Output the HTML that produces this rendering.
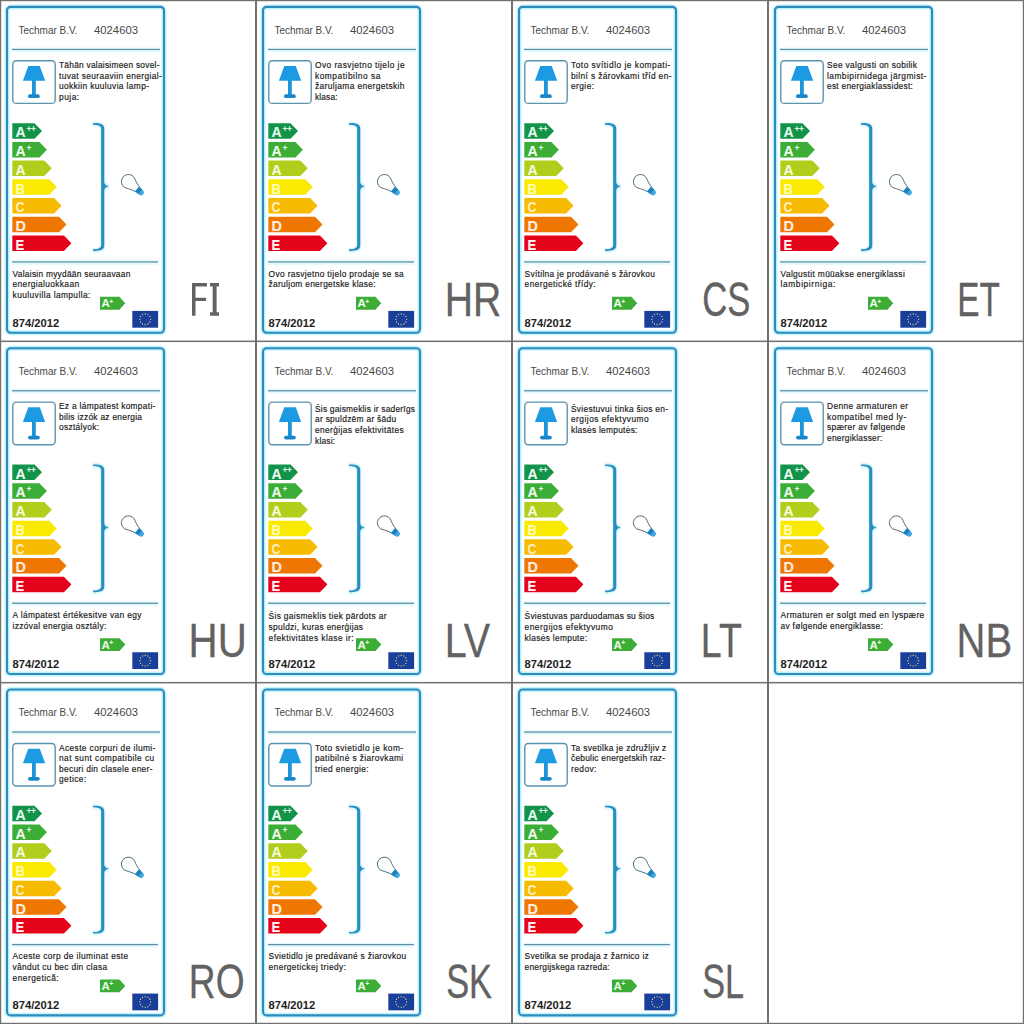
<!DOCTYPE html>
<html><head><meta charset="utf-8"><style>
html,body{margin:0;padding:0;background:#fff;width:1024px;height:1024px;overflow:hidden}
svg{display:block}
text{font-family:"Liberation Sans",sans-serif}
.hd{font-size:10.9px;fill:#484848}
.bt{font-size:9px;fill:#1a1a1a;stroke:#1a1a1a;stroke-width:0.18px;letter-spacing:0.32px}
.al{font-size:15.2px;font-weight:bold;stroke-width:0.1px}
.sup{font-size:8.4px;font-weight:bold;fill:#eefaee;letter-spacing:-0.4px}
.als{font-size:11.5px;font-weight:bold;fill:#eefaea}
.sups{font-size:7px;font-weight:bold;fill:#eefaea}
.rg{font-size:11.2px;font-weight:bold;fill:#1e1e1e}
.code{font-size:47.2px;fill:#626262;stroke:#626262;stroke-width:0.3px}
</style></head><body>
<svg width="1024" height="1024" viewBox="0 0 1024 1024">
<rect width="1024" height="1024" fill="#fff"/>
<g transform="translate(0,0.000)">
<rect x="7" y="6.9" width="157" height="325.8" rx="3.6" fill="none" stroke="#bff3fd" stroke-width="5"/>
<rect x="7" y="6.9" width="157" height="325.8" rx="3.6" fill="none" stroke="#2f8bbd" stroke-width="2.1"/>
<text x="18.6" y="33.5" class="hd" textLength="58.8" lengthAdjust="spacingAndGlyphs">Techmar B.V.</text>
<text x="94" y="33.5" class="hd" textLength="44" lengthAdjust="spacingAndGlyphs">4024603</text>
<rect x="12" y="47.4" width="148" height="5" fill="#e6fafe"/>
<rect x="12" y="48.8" width="148" height="1.25" fill="#5a8fa6"/>
<rect x="12.8" y="60.8" width="42.4" height="42.6" rx="3.5" fill="none" stroke="#5b93ad" stroke-width="1.4"/>
<path d="M28.3 66 L39.8 66 L45.2 80.7 L22.9 80.7 Z" fill="#1d9be2"/>
<rect x="32" y="80" width="3.8" height="15" fill="#1c94da"/>
<rect x="28" y="94.3" width="11.8" height="3.8" rx="1.9" fill="#1886c8"/>
<text transform="translate(59 68.00) scale(0.93 1)" class="bt" textLength="108.33" lengthAdjust="spacing">Tähän valaisimeen sovel-</text>
<text transform="translate(59 78.55) scale(0.93 1)" class="bt" textLength="110.91" lengthAdjust="spacing">tuvat seuraaviin energial-</text>
<text transform="translate(59 89.10) scale(0.93 1)" class="bt" textLength="97.04" lengthAdjust="spacing">uokkiin kuuluvia lamp-</text>
<text transform="translate(59 99.65) scale(0.93 1)" class="bt" textLength="21.99" lengthAdjust="spacing">puja:</text>
<path d="M12.3 123.20 L34.50 123.20 L42.00 130.95 L34.50 138.70 L12.3 138.70 Z" fill="#12934a"/>
<text transform="translate(15.6 137.40) scale(0.92 1)" class="al" style="fill:#eefaee;stroke:#eefaee">A</text>
<text x="26.4" y="131.80" class="sup">++</text>
<path d="M12.3 141.90 L39.40 141.90 L46.90 149.65 L39.40 157.40 L12.3 157.40 Z" fill="#3cad36"/>
<text transform="translate(15.6 156.10) scale(0.92 1)" class="al" style="fill:#f0faea;stroke:#f0faea">A</text>
<text x="26.4" y="150.50" class="sup">+</text>
<path d="M12.3 160.60 L44.30 160.60 L51.80 168.35 L44.30 176.10 L12.3 176.10 Z" fill="#b2cd1c"/>
<text transform="translate(15.6 174.80) scale(0.92 1)" class="al" style="fill:#f6fbe0;stroke:#f6fbe0">A</text>
<path d="M12.3 179.30 L49.20 179.30 L56.70 187.05 L49.20 194.80 L12.3 194.80 Z" fill="#f9ea00"/>
<text transform="translate(15.6 193.50) scale(0.86 1)" class="al" style="fill:#fffbb8;stroke:#fffbb8">B</text>
<path d="M12.3 198.00 L54.10 198.00 L61.60 205.75 L54.10 213.50 L12.3 213.50 Z" fill="#f6bb00"/>
<text transform="translate(15.6 212.20) scale(0.82 1)" class="al" style="fill:#fff0c0;stroke:#fff0c0">C</text>
<path d="M12.3 216.70 L59.00 216.70 L66.50 224.45 L59.00 232.20 L12.3 232.20 Z" fill="#ee7703"/>
<text transform="translate(15.6 230.90) scale(0.95 1)" class="al" style="fill:#fff0e0;stroke:#fff0e0">D</text>
<path d="M12.3 235.40 L63.90 235.40 L71.40 243.15 L63.90 250.90 L12.3 250.90 Z" fill="#e5031c"/>
<text transform="translate(15.6 249.60) scale(0.86 1)" class="al" style="fill:#fff4f4;stroke:#fff4f4">E</text>
<path d="M93 124 Q102.7 123.6 102.7 128.5 L102.7 181.5 Q102.7 186 109 186.2 Q102.7 186.6 102.7 190.4 L102.7 245.5 Q102.7 250.4 93 250.4" fill="none" stroke="#d8f8ff" stroke-width="5.5"/>
<path d="M93 123.1 C98 123.1 104.25 123.3 104.25 128.5 L104.25 181.4 C104.25 184.4 106 185.6 109.2 186.2 C106 186.8 104.25 188 104.25 191 L104.25 245.5 C104.25 250.7 98 250.9 93 250.9 L93 249.3 C97 249.3 101.15 248.5 101.15 245.5 L101.15 128.5 C101.15 125.5 97 124.7 93 124.7 Z" fill="#2a8dc2"/>
<g transform="translate(128.4 181.5) rotate(41)"><path d="M11.8 -3.2 C9 -3.6 5.2 -5.1 3.5 -6.06 A7 7 0 1 0 3.5 6.06 C5.2 5.1 9 3.6 11.8 3.2" fill="none" stroke="#456a75" stroke-width="0.9"/><path d="M11.4 -3.4 L16 -3 L16 3 L11.4 3.4 Z" fill="#1a82c0"/><path d="M15.8 -3 L18.6 -2.4 Q20.5 0 18.6 2.4 L15.8 3 Z" fill="#3ea6dc"/></g>
<rect x="12" y="259.9" width="146" height="5" fill="#e6fafe"/>
<rect x="12" y="261.3" width="146" height="1.25" fill="#5a8fa6"/>
<text transform="translate(12.6 276.80) scale(0.93 1)" class="bt" textLength="126.88" lengthAdjust="spacing">Valaisin myydään seuraavaan</text>
<text transform="translate(12.6 287.40) scale(0.93 1)" class="bt" textLength="71.77" lengthAdjust="spacing">energialuokkaan</text>
<text transform="translate(12.6 298.00) scale(0.93 1)" class="bt" textLength="83.87" lengthAdjust="spacing">kuuluvilla lampulla:</text>
<path d="M100 296.8 L119.4 296.8 L125.3 303.25 L119.4 309.7 L100 309.7 Z" fill="#3cad36"/>
<text x="101.4" y="307.2" class="als">A</text><text x="109.2" y="303.6" class="sups">+</text>
<text x="12.5" y="326.6" class="rg">874/2012</text>
<rect x="132.3" y="310.9" width="25.8" height="16.8" fill="#1a3f9a"/>
<circle cx="150.60" cy="319.30" r="0.65" fill="#e8e07a"/>
<circle cx="149.88" cy="322.00" r="0.65" fill="#e8e07a"/>
<circle cx="147.90" cy="323.98" r="0.65" fill="#e8e07a"/>
<circle cx="145.20" cy="324.70" r="0.65" fill="#e8e07a"/>
<circle cx="142.50" cy="323.98" r="0.65" fill="#e8e07a"/>
<circle cx="140.52" cy="322.00" r="0.65" fill="#e8e07a"/>
<circle cx="139.80" cy="319.30" r="0.65" fill="#e8e07a"/>
<circle cx="140.52" cy="316.60" r="0.65" fill="#e8e07a"/>
<circle cx="142.50" cy="314.62" r="0.65" fill="#e8e07a"/>
<circle cx="145.20" cy="313.90" r="0.65" fill="#e8e07a"/>
<circle cx="147.90" cy="314.62" r="0.65" fill="#e8e07a"/>
<circle cx="149.88" cy="316.60" r="0.65" fill="#e8e07a"/>
<path d="M192 283.1 H206.9 V286.6 H195.5 V297.7 H206.1 V300.9 H195.5 V315.7 H192 Z M210 283.1 H219 V286.6 H216.6 V312.2 H219 V315.7 H210 V312.2 H212.7 V286.6 H210 Z" fill="#626262"/>
</g>
<g transform="translate(256,0.000)">
<rect x="7" y="6.9" width="157" height="325.8" rx="3.6" fill="none" stroke="#bff3fd" stroke-width="5"/>
<rect x="7" y="6.9" width="157" height="325.8" rx="3.6" fill="none" stroke="#2f8bbd" stroke-width="2.1"/>
<text x="18.6" y="33.5" class="hd" textLength="58.8" lengthAdjust="spacingAndGlyphs">Techmar B.V.</text>
<text x="94" y="33.5" class="hd" textLength="44" lengthAdjust="spacingAndGlyphs">4024603</text>
<rect x="12" y="47.4" width="148" height="5" fill="#e6fafe"/>
<rect x="12" y="48.8" width="148" height="1.25" fill="#5a8fa6"/>
<rect x="12.8" y="60.8" width="42.4" height="42.6" rx="3.5" fill="none" stroke="#5b93ad" stroke-width="1.4"/>
<path d="M28.3 66 L39.8 66 L45.2 80.7 L22.9 80.7 Z" fill="#1d9be2"/>
<rect x="32" y="80" width="3.8" height="15" fill="#1c94da"/>
<rect x="28" y="94.3" width="11.8" height="3.8" rx="1.9" fill="#1886c8"/>
<text transform="translate(59 68.00) scale(0.93 1)" class="bt" textLength="96.61" lengthAdjust="spacing">Ovo rasvjetno tijelo je</text>
<text transform="translate(59 78.55) scale(0.93 1)" class="bt" textLength="70.59" lengthAdjust="spacing">kompatibilno sa</text>
<text transform="translate(59 89.10) scale(0.93 1)" class="bt" textLength="96.50" lengthAdjust="spacing">žaruljama energetskih</text>
<text transform="translate(59 99.65) scale(0.93 1)" class="bt" textLength="24.57" lengthAdjust="spacing">klasa:</text>
<path d="M12.3 123.20 L34.50 123.20 L42.00 130.95 L34.50 138.70 L12.3 138.70 Z" fill="#12934a"/>
<text transform="translate(15.6 137.40) scale(0.92 1)" class="al" style="fill:#eefaee;stroke:#eefaee">A</text>
<text x="26.4" y="131.80" class="sup">++</text>
<path d="M12.3 141.90 L39.40 141.90 L46.90 149.65 L39.40 157.40 L12.3 157.40 Z" fill="#3cad36"/>
<text transform="translate(15.6 156.10) scale(0.92 1)" class="al" style="fill:#f0faea;stroke:#f0faea">A</text>
<text x="26.4" y="150.50" class="sup">+</text>
<path d="M12.3 160.60 L44.30 160.60 L51.80 168.35 L44.30 176.10 L12.3 176.10 Z" fill="#b2cd1c"/>
<text transform="translate(15.6 174.80) scale(0.92 1)" class="al" style="fill:#f6fbe0;stroke:#f6fbe0">A</text>
<path d="M12.3 179.30 L49.20 179.30 L56.70 187.05 L49.20 194.80 L12.3 194.80 Z" fill="#f9ea00"/>
<text transform="translate(15.6 193.50) scale(0.86 1)" class="al" style="fill:#fffbb8;stroke:#fffbb8">B</text>
<path d="M12.3 198.00 L54.10 198.00 L61.60 205.75 L54.10 213.50 L12.3 213.50 Z" fill="#f6bb00"/>
<text transform="translate(15.6 212.20) scale(0.82 1)" class="al" style="fill:#fff0c0;stroke:#fff0c0">C</text>
<path d="M12.3 216.70 L59.00 216.70 L66.50 224.45 L59.00 232.20 L12.3 232.20 Z" fill="#ee7703"/>
<text transform="translate(15.6 230.90) scale(0.95 1)" class="al" style="fill:#fff0e0;stroke:#fff0e0">D</text>
<path d="M12.3 235.40 L63.90 235.40 L71.40 243.15 L63.90 250.90 L12.3 250.90 Z" fill="#e5031c"/>
<text transform="translate(15.6 249.60) scale(0.86 1)" class="al" style="fill:#fff4f4;stroke:#fff4f4">E</text>
<path d="M93 124 Q102.7 123.6 102.7 128.5 L102.7 181.5 Q102.7 186 109 186.2 Q102.7 186.6 102.7 190.4 L102.7 245.5 Q102.7 250.4 93 250.4" fill="none" stroke="#d8f8ff" stroke-width="5.5"/>
<path d="M93 123.1 C98 123.1 104.25 123.3 104.25 128.5 L104.25 181.4 C104.25 184.4 106 185.6 109.2 186.2 C106 186.8 104.25 188 104.25 191 L104.25 245.5 C104.25 250.7 98 250.9 93 250.9 L93 249.3 C97 249.3 101.15 248.5 101.15 245.5 L101.15 128.5 C101.15 125.5 97 124.7 93 124.7 Z" fill="#2a8dc2"/>
<g transform="translate(128.4 181.5) rotate(41)"><path d="M11.8 -3.2 C9 -3.6 5.2 -5.1 3.5 -6.06 A7 7 0 1 0 3.5 6.06 C5.2 5.1 9 3.6 11.8 3.2" fill="none" stroke="#456a75" stroke-width="0.9"/><path d="M11.4 -3.4 L16 -3 L16 3 L11.4 3.4 Z" fill="#1a82c0"/><path d="M15.8 -3 L18.6 -2.4 Q20.5 0 18.6 2.4 L15.8 3 Z" fill="#3ea6dc"/></g>
<rect x="12" y="259.9" width="146" height="5" fill="#e6fafe"/>
<rect x="12" y="261.3" width="146" height="1.25" fill="#5a8fa6"/>
<text transform="translate(12.6 276.80) scale(0.93 1)" class="bt" textLength="145.54" lengthAdjust="spacing">Ovo rasvjetno tijelo prodaje se sa</text>
<text transform="translate(12.6 287.40) scale(0.93 1)" class="bt" textLength="115.32" lengthAdjust="spacing">žaruljom energetske klase:</text>
<path d="M100 296.8 L119.4 296.8 L125.3 303.25 L119.4 309.7 L100 309.7 Z" fill="#3cad36"/>
<text x="101.4" y="307.2" class="als">A</text><text x="109.2" y="303.6" class="sups">+</text>
<text x="12.5" y="326.6" class="rg">874/2012</text>
<rect x="132.3" y="310.9" width="25.8" height="16.8" fill="#1a3f9a"/>
<circle cx="150.60" cy="319.30" r="0.65" fill="#e8e07a"/>
<circle cx="149.88" cy="322.00" r="0.65" fill="#e8e07a"/>
<circle cx="147.90" cy="323.98" r="0.65" fill="#e8e07a"/>
<circle cx="145.20" cy="324.70" r="0.65" fill="#e8e07a"/>
<circle cx="142.50" cy="323.98" r="0.65" fill="#e8e07a"/>
<circle cx="140.52" cy="322.00" r="0.65" fill="#e8e07a"/>
<circle cx="139.80" cy="319.30" r="0.65" fill="#e8e07a"/>
<circle cx="140.52" cy="316.60" r="0.65" fill="#e8e07a"/>
<circle cx="142.50" cy="314.62" r="0.65" fill="#e8e07a"/>
<circle cx="145.20" cy="313.90" r="0.65" fill="#e8e07a"/>
<circle cx="147.90" cy="314.62" r="0.65" fill="#e8e07a"/>
<circle cx="149.88" cy="316.60" r="0.65" fill="#e8e07a"/>
<text transform="translate(188.68 315.6) scale(0.8306 1)" class="code">HR</text>
</g>
<g transform="translate(512,0.000)">
<rect x="7" y="6.9" width="157" height="325.8" rx="3.6" fill="none" stroke="#bff3fd" stroke-width="5"/>
<rect x="7" y="6.9" width="157" height="325.8" rx="3.6" fill="none" stroke="#2f8bbd" stroke-width="2.1"/>
<text x="18.6" y="33.5" class="hd" textLength="58.8" lengthAdjust="spacingAndGlyphs">Techmar B.V.</text>
<text x="94" y="33.5" class="hd" textLength="44" lengthAdjust="spacingAndGlyphs">4024603</text>
<rect x="12" y="47.4" width="148" height="5" fill="#e6fafe"/>
<rect x="12" y="48.8" width="148" height="1.25" fill="#5a8fa6"/>
<rect x="12.8" y="60.8" width="42.4" height="42.6" rx="3.5" fill="none" stroke="#5b93ad" stroke-width="1.4"/>
<path d="M28.3 66 L39.8 66 L45.2 80.7 L22.9 80.7 Z" fill="#1d9be2"/>
<rect x="32" y="80" width="3.8" height="15" fill="#1c94da"/>
<rect x="28" y="94.3" width="11.8" height="3.8" rx="1.9" fill="#1886c8"/>
<text transform="translate(59 68.00) scale(0.93 1)" class="bt" textLength="107.15" lengthAdjust="spacing">Toto svítidlo je kompati-</text>
<text transform="translate(59 78.55) scale(0.93 1)" class="bt" textLength="108.33" lengthAdjust="spacing">bilní s žárovkami tříd en-</text>
<text transform="translate(59 89.10) scale(0.93 1)" class="bt" textLength="25.11" lengthAdjust="spacing">ergie:</text>
<path d="M12.3 123.20 L34.50 123.20 L42.00 130.95 L34.50 138.70 L12.3 138.70 Z" fill="#12934a"/>
<text transform="translate(15.6 137.40) scale(0.92 1)" class="al" style="fill:#eefaee;stroke:#eefaee">A</text>
<text x="26.4" y="131.80" class="sup">++</text>
<path d="M12.3 141.90 L39.40 141.90 L46.90 149.65 L39.40 157.40 L12.3 157.40 Z" fill="#3cad36"/>
<text transform="translate(15.6 156.10) scale(0.92 1)" class="al" style="fill:#f0faea;stroke:#f0faea">A</text>
<text x="26.4" y="150.50" class="sup">+</text>
<path d="M12.3 160.60 L44.30 160.60 L51.80 168.35 L44.30 176.10 L12.3 176.10 Z" fill="#b2cd1c"/>
<text transform="translate(15.6 174.80) scale(0.92 1)" class="al" style="fill:#f6fbe0;stroke:#f6fbe0">A</text>
<path d="M12.3 179.30 L49.20 179.30 L56.70 187.05 L49.20 194.80 L12.3 194.80 Z" fill="#f9ea00"/>
<text transform="translate(15.6 193.50) scale(0.86 1)" class="al" style="fill:#fffbb8;stroke:#fffbb8">B</text>
<path d="M12.3 198.00 L54.10 198.00 L61.60 205.75 L54.10 213.50 L12.3 213.50 Z" fill="#f6bb00"/>
<text transform="translate(15.6 212.20) scale(0.82 1)" class="al" style="fill:#fff0c0;stroke:#fff0c0">C</text>
<path d="M12.3 216.70 L59.00 216.70 L66.50 224.45 L59.00 232.20 L12.3 232.20 Z" fill="#ee7703"/>
<text transform="translate(15.6 230.90) scale(0.95 1)" class="al" style="fill:#fff0e0;stroke:#fff0e0">D</text>
<path d="M12.3 235.40 L63.90 235.40 L71.40 243.15 L63.90 250.90 L12.3 250.90 Z" fill="#e5031c"/>
<text transform="translate(15.6 249.60) scale(0.86 1)" class="al" style="fill:#fff4f4;stroke:#fff4f4">E</text>
<path d="M93 124 Q102.7 123.6 102.7 128.5 L102.7 181.5 Q102.7 186 109 186.2 Q102.7 186.6 102.7 190.4 L102.7 245.5 Q102.7 250.4 93 250.4" fill="none" stroke="#d8f8ff" stroke-width="5.5"/>
<path d="M93 123.1 C98 123.1 104.25 123.3 104.25 128.5 L104.25 181.4 C104.25 184.4 106 185.6 109.2 186.2 C106 186.8 104.25 188 104.25 191 L104.25 245.5 C104.25 250.7 98 250.9 93 250.9 L93 249.3 C97 249.3 101.15 248.5 101.15 245.5 L101.15 128.5 C101.15 125.5 97 124.7 93 124.7 Z" fill="#2a8dc2"/>
<g transform="translate(128.4 181.5) rotate(41)"><path d="M11.8 -3.2 C9 -3.6 5.2 -5.1 3.5 -6.06 A7 7 0 1 0 3.5 6.06 C5.2 5.1 9 3.6 11.8 3.2" fill="none" stroke="#456a75" stroke-width="0.9"/><path d="M11.4 -3.4 L16 -3 L16 3 L11.4 3.4 Z" fill="#1a82c0"/><path d="M15.8 -3 L18.6 -2.4 Q20.5 0 18.6 2.4 L15.8 3 Z" fill="#3ea6dc"/></g>
<rect x="12" y="259.9" width="146" height="5" fill="#e6fafe"/>
<rect x="12" y="261.3" width="146" height="1.25" fill="#5a8fa6"/>
<text transform="translate(12.6 276.80) scale(0.93 1)" class="bt" textLength="140.48" lengthAdjust="spacing">Svítilna je prodávané s žárovkou</text>
<text transform="translate(12.6 287.40) scale(0.93 1)" class="bt" textLength="76.72" lengthAdjust="spacing">energetické třídy:</text>
<path d="M100 296.8 L119.4 296.8 L125.3 303.25 L119.4 309.7 L100 309.7 Z" fill="#3cad36"/>
<text x="101.4" y="307.2" class="als">A</text><text x="109.2" y="303.6" class="sups">+</text>
<text x="12.5" y="326.6" class="rg">874/2012</text>
<rect x="132.3" y="310.9" width="25.8" height="16.8" fill="#1a3f9a"/>
<circle cx="150.60" cy="319.30" r="0.65" fill="#e8e07a"/>
<circle cx="149.88" cy="322.00" r="0.65" fill="#e8e07a"/>
<circle cx="147.90" cy="323.98" r="0.65" fill="#e8e07a"/>
<circle cx="145.20" cy="324.70" r="0.65" fill="#e8e07a"/>
<circle cx="142.50" cy="323.98" r="0.65" fill="#e8e07a"/>
<circle cx="140.52" cy="322.00" r="0.65" fill="#e8e07a"/>
<circle cx="139.80" cy="319.30" r="0.65" fill="#e8e07a"/>
<circle cx="140.52" cy="316.60" r="0.65" fill="#e8e07a"/>
<circle cx="142.50" cy="314.62" r="0.65" fill="#e8e07a"/>
<circle cx="145.20" cy="313.90" r="0.65" fill="#e8e07a"/>
<circle cx="147.90" cy="314.62" r="0.65" fill="#e8e07a"/>
<circle cx="149.88" cy="316.60" r="0.65" fill="#e8e07a"/>
<text transform="translate(190.16 315.6) scale(0.7344 1)" class="code">CS</text>
</g>
<g transform="translate(768,0.000)">
<rect x="7" y="6.9" width="157" height="325.8" rx="3.6" fill="none" stroke="#bff3fd" stroke-width="5"/>
<rect x="7" y="6.9" width="157" height="325.8" rx="3.6" fill="none" stroke="#2f8bbd" stroke-width="2.1"/>
<text x="18.6" y="33.5" class="hd" textLength="58.8" lengthAdjust="spacingAndGlyphs">Techmar B.V.</text>
<text x="94" y="33.5" class="hd" textLength="44" lengthAdjust="spacingAndGlyphs">4024603</text>
<rect x="12" y="47.4" width="148" height="5" fill="#e6fafe"/>
<rect x="12" y="48.8" width="148" height="1.25" fill="#5a8fa6"/>
<rect x="12.8" y="60.8" width="42.4" height="42.6" rx="3.5" fill="none" stroke="#5b93ad" stroke-width="1.4"/>
<path d="M28.3 66 L39.8 66 L45.2 80.7 L22.9 80.7 Z" fill="#1d9be2"/>
<rect x="32" y="80" width="3.8" height="15" fill="#1c94da"/>
<rect x="28" y="94.3" width="11.8" height="3.8" rx="1.9" fill="#1886c8"/>
<text transform="translate(59 68.00) scale(0.93 1)" class="bt" textLength="97.04" lengthAdjust="spacing">See valgusti on sobilik</text>
<text transform="translate(59 78.55) scale(0.93 1)" class="bt" textLength="107.15" lengthAdjust="spacing">lambipirnidega järgmist-</text>
<text transform="translate(59 89.10) scale(0.93 1)" class="bt" textLength="92.63" lengthAdjust="spacing">est energiaklassidest:</text>
<path d="M12.3 123.20 L34.50 123.20 L42.00 130.95 L34.50 138.70 L12.3 138.70 Z" fill="#12934a"/>
<text transform="translate(15.6 137.40) scale(0.92 1)" class="al" style="fill:#eefaee;stroke:#eefaee">A</text>
<text x="26.4" y="131.80" class="sup">++</text>
<path d="M12.3 141.90 L39.40 141.90 L46.90 149.65 L39.40 157.40 L12.3 157.40 Z" fill="#3cad36"/>
<text transform="translate(15.6 156.10) scale(0.92 1)" class="al" style="fill:#f0faea;stroke:#f0faea">A</text>
<text x="26.4" y="150.50" class="sup">+</text>
<path d="M12.3 160.60 L44.30 160.60 L51.80 168.35 L44.30 176.10 L12.3 176.10 Z" fill="#b2cd1c"/>
<text transform="translate(15.6 174.80) scale(0.92 1)" class="al" style="fill:#f6fbe0;stroke:#f6fbe0">A</text>
<path d="M12.3 179.30 L49.20 179.30 L56.70 187.05 L49.20 194.80 L12.3 194.80 Z" fill="#f9ea00"/>
<text transform="translate(15.6 193.50) scale(0.86 1)" class="al" style="fill:#fffbb8;stroke:#fffbb8">B</text>
<path d="M12.3 198.00 L54.10 198.00 L61.60 205.75 L54.10 213.50 L12.3 213.50 Z" fill="#f6bb00"/>
<text transform="translate(15.6 212.20) scale(0.82 1)" class="al" style="fill:#fff0c0;stroke:#fff0c0">C</text>
<path d="M12.3 216.70 L59.00 216.70 L66.50 224.45 L59.00 232.20 L12.3 232.20 Z" fill="#ee7703"/>
<text transform="translate(15.6 230.90) scale(0.95 1)" class="al" style="fill:#fff0e0;stroke:#fff0e0">D</text>
<path d="M12.3 235.40 L63.90 235.40 L71.40 243.15 L63.90 250.90 L12.3 250.90 Z" fill="#e5031c"/>
<text transform="translate(15.6 249.60) scale(0.86 1)" class="al" style="fill:#fff4f4;stroke:#fff4f4">E</text>
<path d="M93 124 Q102.7 123.6 102.7 128.5 L102.7 181.5 Q102.7 186 109 186.2 Q102.7 186.6 102.7 190.4 L102.7 245.5 Q102.7 250.4 93 250.4" fill="none" stroke="#d8f8ff" stroke-width="5.5"/>
<path d="M93 123.1 C98 123.1 104.25 123.3 104.25 128.5 L104.25 181.4 C104.25 184.4 106 185.6 109.2 186.2 C106 186.8 104.25 188 104.25 191 L104.25 245.5 C104.25 250.7 98 250.9 93 250.9 L93 249.3 C97 249.3 101.15 248.5 101.15 245.5 L101.15 128.5 C101.15 125.5 97 124.7 93 124.7 Z" fill="#2a8dc2"/>
<g transform="translate(128.4 181.5) rotate(41)"><path d="M11.8 -3.2 C9 -3.6 5.2 -5.1 3.5 -6.06 A7 7 0 1 0 3.5 6.06 C5.2 5.1 9 3.6 11.8 3.2" fill="none" stroke="#456a75" stroke-width="0.9"/><path d="M11.4 -3.4 L16 -3 L16 3 L11.4 3.4 Z" fill="#1a82c0"/><path d="M15.8 -3 L18.6 -2.4 Q20.5 0 18.6 2.4 L15.8 3 Z" fill="#3ea6dc"/></g>
<rect x="12" y="259.9" width="146" height="5" fill="#e6fafe"/>
<rect x="12" y="261.3" width="146" height="1.25" fill="#5a8fa6"/>
<text transform="translate(12.6 276.80) scale(0.93 1)" class="bt" textLength="133.82" lengthAdjust="spacing">Valgustit müüakse energiklassi</text>
<text transform="translate(12.6 287.40) scale(0.93 1)" class="bt" textLength="59.08" lengthAdjust="spacing">lambipirniga:</text>
<path d="M100 296.8 L119.4 296.8 L125.3 303.25 L119.4 309.7 L100 309.7 Z" fill="#3cad36"/>
<text x="101.4" y="307.2" class="als">A</text><text x="109.2" y="303.6" class="sups">+</text>
<text x="12.5" y="326.6" class="rg">874/2012</text>
<rect x="132.3" y="310.9" width="25.8" height="16.8" fill="#1a3f9a"/>
<circle cx="150.60" cy="319.30" r="0.65" fill="#e8e07a"/>
<circle cx="149.88" cy="322.00" r="0.65" fill="#e8e07a"/>
<circle cx="147.90" cy="323.98" r="0.65" fill="#e8e07a"/>
<circle cx="145.20" cy="324.70" r="0.65" fill="#e8e07a"/>
<circle cx="142.50" cy="323.98" r="0.65" fill="#e8e07a"/>
<circle cx="140.52" cy="322.00" r="0.65" fill="#e8e07a"/>
<circle cx="139.80" cy="319.30" r="0.65" fill="#e8e07a"/>
<circle cx="140.52" cy="316.60" r="0.65" fill="#e8e07a"/>
<circle cx="142.50" cy="314.62" r="0.65" fill="#e8e07a"/>
<circle cx="145.20" cy="313.90" r="0.65" fill="#e8e07a"/>
<circle cx="147.90" cy="314.62" r="0.65" fill="#e8e07a"/>
<circle cx="149.88" cy="316.60" r="0.65" fill="#e8e07a"/>
<text transform="translate(189.17 315.6) scale(0.7081 1)" class="code">ET</text>
</g>
<g transform="translate(0,341.333)">
<rect x="7" y="6.9" width="157" height="325.8" rx="3.6" fill="none" stroke="#bff3fd" stroke-width="5"/>
<rect x="7" y="6.9" width="157" height="325.8" rx="3.6" fill="none" stroke="#2f8bbd" stroke-width="2.1"/>
<text x="18.6" y="33.5" class="hd" textLength="58.8" lengthAdjust="spacingAndGlyphs">Techmar B.V.</text>
<text x="94" y="33.5" class="hd" textLength="44" lengthAdjust="spacingAndGlyphs">4024603</text>
<rect x="12" y="47.4" width="148" height="5" fill="#e6fafe"/>
<rect x="12" y="48.8" width="148" height="1.25" fill="#5a8fa6"/>
<rect x="12.8" y="60.8" width="42.4" height="42.6" rx="3.5" fill="none" stroke="#5b93ad" stroke-width="1.4"/>
<path d="M28.3 66 L39.8 66 L45.2 80.7 L22.9 80.7 Z" fill="#1d9be2"/>
<rect x="32" y="80" width="3.8" height="15" fill="#1c94da"/>
<rect x="28" y="94.3" width="11.8" height="3.8" rx="1.9" fill="#1886c8"/>
<text transform="translate(59 68.00) scale(0.93 1)" class="bt" textLength="103.92" lengthAdjust="spacing">Ez a lámpatest kompati-</text>
<text transform="translate(59 78.55) scale(0.93 1)" class="bt" textLength="89.51" lengthAdjust="spacing">bilis izzók az energia</text>
<text transform="translate(59 89.10) scale(0.93 1)" class="bt" textLength="43.39" lengthAdjust="spacing">osztályok:</text>
<path d="M12.3 123.20 L34.50 123.20 L42.00 130.95 L34.50 138.70 L12.3 138.70 Z" fill="#12934a"/>
<text transform="translate(15.6 137.40) scale(0.92 1)" class="al" style="fill:#eefaee;stroke:#eefaee">A</text>
<text x="26.4" y="131.80" class="sup">++</text>
<path d="M12.3 141.90 L39.40 141.90 L46.90 149.65 L39.40 157.40 L12.3 157.40 Z" fill="#3cad36"/>
<text transform="translate(15.6 156.10) scale(0.92 1)" class="al" style="fill:#f0faea;stroke:#f0faea">A</text>
<text x="26.4" y="150.50" class="sup">+</text>
<path d="M12.3 160.60 L44.30 160.60 L51.80 168.35 L44.30 176.10 L12.3 176.10 Z" fill="#b2cd1c"/>
<text transform="translate(15.6 174.80) scale(0.92 1)" class="al" style="fill:#f6fbe0;stroke:#f6fbe0">A</text>
<path d="M12.3 179.30 L49.20 179.30 L56.70 187.05 L49.20 194.80 L12.3 194.80 Z" fill="#f9ea00"/>
<text transform="translate(15.6 193.50) scale(0.86 1)" class="al" style="fill:#fffbb8;stroke:#fffbb8">B</text>
<path d="M12.3 198.00 L54.10 198.00 L61.60 205.75 L54.10 213.50 L12.3 213.50 Z" fill="#f6bb00"/>
<text transform="translate(15.6 212.20) scale(0.82 1)" class="al" style="fill:#fff0c0;stroke:#fff0c0">C</text>
<path d="M12.3 216.70 L59.00 216.70 L66.50 224.45 L59.00 232.20 L12.3 232.20 Z" fill="#ee7703"/>
<text transform="translate(15.6 230.90) scale(0.95 1)" class="al" style="fill:#fff0e0;stroke:#fff0e0">D</text>
<path d="M12.3 235.40 L63.90 235.40 L71.40 243.15 L63.90 250.90 L12.3 250.90 Z" fill="#e5031c"/>
<text transform="translate(15.6 249.60) scale(0.86 1)" class="al" style="fill:#fff4f4;stroke:#fff4f4">E</text>
<path d="M93 124 Q102.7 123.6 102.7 128.5 L102.7 181.5 Q102.7 186 109 186.2 Q102.7 186.6 102.7 190.4 L102.7 245.5 Q102.7 250.4 93 250.4" fill="none" stroke="#d8f8ff" stroke-width="5.5"/>
<path d="M93 123.1 C98 123.1 104.25 123.3 104.25 128.5 L104.25 181.4 C104.25 184.4 106 185.6 109.2 186.2 C106 186.8 104.25 188 104.25 191 L104.25 245.5 C104.25 250.7 98 250.9 93 250.9 L93 249.3 C97 249.3 101.15 248.5 101.15 245.5 L101.15 128.5 C101.15 125.5 97 124.7 93 124.7 Z" fill="#2a8dc2"/>
<g transform="translate(128.4 181.5) rotate(41)"><path d="M11.8 -3.2 C9 -3.6 5.2 -5.1 3.5 -6.06 A7 7 0 1 0 3.5 6.06 C5.2 5.1 9 3.6 11.8 3.2" fill="none" stroke="#456a75" stroke-width="0.9"/><path d="M11.4 -3.4 L16 -3 L16 3 L11.4 3.4 Z" fill="#1a82c0"/><path d="M15.8 -3 L18.6 -2.4 Q20.5 0 18.6 2.4 L15.8 3 Z" fill="#3ea6dc"/></g>
<rect x="12" y="259.9" width="146" height="5" fill="#e6fafe"/>
<rect x="12" y="261.3" width="146" height="1.25" fill="#5a8fa6"/>
<text transform="translate(12.6 276.80) scale(0.93 1)" class="bt" textLength="138.87" lengthAdjust="spacing">A lámpatest értékesitve van egy</text>
<text transform="translate(12.6 287.40) scale(0.93 1)" class="bt" textLength="101.02" lengthAdjust="spacing">izzóval energia osztály:</text>
<path d="M100 296.8 L119.4 296.8 L125.3 303.25 L119.4 309.7 L100 309.7 Z" fill="#3cad36"/>
<text x="101.4" y="307.2" class="als">A</text><text x="109.2" y="303.6" class="sups">+</text>
<text x="12.5" y="326.6" class="rg">874/2012</text>
<rect x="132.3" y="310.9" width="25.8" height="16.8" fill="#1a3f9a"/>
<circle cx="150.60" cy="319.30" r="0.65" fill="#e8e07a"/>
<circle cx="149.88" cy="322.00" r="0.65" fill="#e8e07a"/>
<circle cx="147.90" cy="323.98" r="0.65" fill="#e8e07a"/>
<circle cx="145.20" cy="324.70" r="0.65" fill="#e8e07a"/>
<circle cx="142.50" cy="323.98" r="0.65" fill="#e8e07a"/>
<circle cx="140.52" cy="322.00" r="0.65" fill="#e8e07a"/>
<circle cx="139.80" cy="319.30" r="0.65" fill="#e8e07a"/>
<circle cx="140.52" cy="316.60" r="0.65" fill="#e8e07a"/>
<circle cx="142.50" cy="314.62" r="0.65" fill="#e8e07a"/>
<circle cx="145.20" cy="313.90" r="0.65" fill="#e8e07a"/>
<circle cx="147.90" cy="314.62" r="0.65" fill="#e8e07a"/>
<circle cx="149.88" cy="316.60" r="0.65" fill="#e8e07a"/>
<text transform="translate(188.59 315.6) scale(0.8525 1)" class="code">HU</text>
</g>
<g transform="translate(256,341.333)">
<rect x="7" y="6.9" width="157" height="325.8" rx="3.6" fill="none" stroke="#bff3fd" stroke-width="5"/>
<rect x="7" y="6.9" width="157" height="325.8" rx="3.6" fill="none" stroke="#2f8bbd" stroke-width="2.1"/>
<text x="18.6" y="33.5" class="hd" textLength="58.8" lengthAdjust="spacingAndGlyphs">Techmar B.V.</text>
<text x="94" y="33.5" class="hd" textLength="44" lengthAdjust="spacingAndGlyphs">4024603</text>
<rect x="12" y="47.4" width="148" height="5" fill="#e6fafe"/>
<rect x="12" y="48.8" width="148" height="1.25" fill="#5a8fa6"/>
<rect x="12.8" y="60.8" width="42.4" height="42.6" rx="3.5" fill="none" stroke="#5b93ad" stroke-width="1.4"/>
<path d="M28.3 66 L39.8 66 L45.2 80.7 L22.9 80.7 Z" fill="#1d9be2"/>
<rect x="32" y="80" width="3.8" height="15" fill="#1c94da"/>
<rect x="28" y="94.3" width="11.8" height="3.8" rx="1.9" fill="#1886c8"/>
<text transform="translate(59 70.60) scale(0.93 1)" class="bt" textLength="107.79" lengthAdjust="spacing">Šis gaismeklis ir saderīgs</text>
<text transform="translate(59 81.15) scale(0.93 1)" class="bt" textLength="87.58" lengthAdjust="spacing">ar spuldzēm ar šādu</text>
<text transform="translate(59 91.70) scale(0.93 1)" class="bt" textLength="95.75" lengthAdjust="spacing">enerģijas efektivitātes</text>
<text transform="translate(59 102.25) scale(0.93 1)" class="bt" textLength="21.99" lengthAdjust="spacing">klasi:</text>
<path d="M12.3 123.20 L34.50 123.20 L42.00 130.95 L34.50 138.70 L12.3 138.70 Z" fill="#12934a"/>
<text transform="translate(15.6 137.40) scale(0.92 1)" class="al" style="fill:#eefaee;stroke:#eefaee">A</text>
<text x="26.4" y="131.80" class="sup">++</text>
<path d="M12.3 141.90 L39.40 141.90 L46.90 149.65 L39.40 157.40 L12.3 157.40 Z" fill="#3cad36"/>
<text transform="translate(15.6 156.10) scale(0.92 1)" class="al" style="fill:#f0faea;stroke:#f0faea">A</text>
<text x="26.4" y="150.50" class="sup">+</text>
<path d="M12.3 160.60 L44.30 160.60 L51.80 168.35 L44.30 176.10 L12.3 176.10 Z" fill="#b2cd1c"/>
<text transform="translate(15.6 174.80) scale(0.92 1)" class="al" style="fill:#f6fbe0;stroke:#f6fbe0">A</text>
<path d="M12.3 179.30 L49.20 179.30 L56.70 187.05 L49.20 194.80 L12.3 194.80 Z" fill="#f9ea00"/>
<text transform="translate(15.6 193.50) scale(0.86 1)" class="al" style="fill:#fffbb8;stroke:#fffbb8">B</text>
<path d="M12.3 198.00 L54.10 198.00 L61.60 205.75 L54.10 213.50 L12.3 213.50 Z" fill="#f6bb00"/>
<text transform="translate(15.6 212.20) scale(0.82 1)" class="al" style="fill:#fff0c0;stroke:#fff0c0">C</text>
<path d="M12.3 216.70 L59.00 216.70 L66.50 224.45 L59.00 232.20 L12.3 232.20 Z" fill="#ee7703"/>
<text transform="translate(15.6 230.90) scale(0.95 1)" class="al" style="fill:#fff0e0;stroke:#fff0e0">D</text>
<path d="M12.3 235.40 L63.90 235.40 L71.40 243.15 L63.90 250.90 L12.3 250.90 Z" fill="#e5031c"/>
<text transform="translate(15.6 249.60) scale(0.86 1)" class="al" style="fill:#fff4f4;stroke:#fff4f4">E</text>
<path d="M93 124 Q102.7 123.6 102.7 128.5 L102.7 181.5 Q102.7 186 109 186.2 Q102.7 186.6 102.7 190.4 L102.7 245.5 Q102.7 250.4 93 250.4" fill="none" stroke="#d8f8ff" stroke-width="5.5"/>
<path d="M93 123.1 C98 123.1 104.25 123.3 104.25 128.5 L104.25 181.4 C104.25 184.4 106 185.6 109.2 186.2 C106 186.8 104.25 188 104.25 191 L104.25 245.5 C104.25 250.7 98 250.9 93 250.9 L93 249.3 C97 249.3 101.15 248.5 101.15 245.5 L101.15 128.5 C101.15 125.5 97 124.7 93 124.7 Z" fill="#2a8dc2"/>
<g transform="translate(128.4 181.5) rotate(41)"><path d="M11.8 -3.2 C9 -3.6 5.2 -5.1 3.5 -6.06 A7 7 0 1 0 3.5 6.06 C5.2 5.1 9 3.6 11.8 3.2" fill="none" stroke="#456a75" stroke-width="0.9"/><path d="M11.4 -3.4 L16 -3 L16 3 L11.4 3.4 Z" fill="#1a82c0"/><path d="M15.8 -3 L18.6 -2.4 Q20.5 0 18.6 2.4 L15.8 3 Z" fill="#3ea6dc"/></g>
<rect x="12" y="259.9" width="146" height="5" fill="#e6fafe"/>
<rect x="12" y="261.3" width="146" height="1.25" fill="#5a8fa6"/>
<text transform="translate(12.6 278.10) scale(0.93 1)" class="bt" textLength="127.04" lengthAdjust="spacing">Šis gaismeklis tiek pārdots ar</text>
<text transform="translate(12.6 288.70) scale(0.93 1)" class="bt" textLength="101.88" lengthAdjust="spacing">spuldzi, kuras enerģijas</text>
<text transform="translate(12.6 299.30) scale(0.93 1)" class="bt" textLength="91.77" lengthAdjust="spacing">efektivitātes klase ir:</text>
<path d="M100 296.8 L119.4 296.8 L125.3 303.25 L119.4 309.7 L100 309.7 Z" fill="#3cad36"/>
<text x="101.4" y="307.2" class="als">A</text><text x="109.2" y="303.6" class="sups">+</text>
<text x="12.5" y="326.6" class="rg">874/2012</text>
<rect x="132.3" y="310.9" width="25.8" height="16.8" fill="#1a3f9a"/>
<circle cx="150.60" cy="319.30" r="0.65" fill="#e8e07a"/>
<circle cx="149.88" cy="322.00" r="0.65" fill="#e8e07a"/>
<circle cx="147.90" cy="323.98" r="0.65" fill="#e8e07a"/>
<circle cx="145.20" cy="324.70" r="0.65" fill="#e8e07a"/>
<circle cx="142.50" cy="323.98" r="0.65" fill="#e8e07a"/>
<circle cx="140.52" cy="322.00" r="0.65" fill="#e8e07a"/>
<circle cx="139.80" cy="319.30" r="0.65" fill="#e8e07a"/>
<circle cx="140.52" cy="316.60" r="0.65" fill="#e8e07a"/>
<circle cx="142.50" cy="314.62" r="0.65" fill="#e8e07a"/>
<circle cx="145.20" cy="313.90" r="0.65" fill="#e8e07a"/>
<circle cx="147.90" cy="314.62" r="0.65" fill="#e8e07a"/>
<circle cx="149.88" cy="316.60" r="0.65" fill="#e8e07a"/>
<text transform="translate(188.66 315.6) scale(0.8360 1)" class="code">LV</text>
</g>
<g transform="translate(512,341.333)">
<rect x="7" y="6.9" width="157" height="325.8" rx="3.6" fill="none" stroke="#bff3fd" stroke-width="5"/>
<rect x="7" y="6.9" width="157" height="325.8" rx="3.6" fill="none" stroke="#2f8bbd" stroke-width="2.1"/>
<text x="18.6" y="33.5" class="hd" textLength="58.8" lengthAdjust="spacingAndGlyphs">Techmar B.V.</text>
<text x="94" y="33.5" class="hd" textLength="44" lengthAdjust="spacingAndGlyphs">4024603</text>
<rect x="12" y="47.4" width="148" height="5" fill="#e6fafe"/>
<rect x="12" y="48.8" width="148" height="1.25" fill="#5a8fa6"/>
<rect x="12.8" y="60.8" width="42.4" height="42.6" rx="3.5" fill="none" stroke="#5b93ad" stroke-width="1.4"/>
<path d="M28.3 66 L39.8 66 L45.2 80.7 L22.9 80.7 Z" fill="#1d9be2"/>
<rect x="32" y="80" width="3.8" height="15" fill="#1c94da"/>
<rect x="28" y="94.3" width="11.8" height="3.8" rx="1.9" fill="#1886c8"/>
<text transform="translate(59 70.60) scale(0.93 1)" class="bt" textLength="104.57" lengthAdjust="spacing">Šviestuvui tinka šios en-</text>
<text transform="translate(59 81.15) scale(0.93 1)" class="bt" textLength="83.82" lengthAdjust="spacing">ergijos efektyvumo</text>
<text transform="translate(59 91.70) scale(0.93 1)" class="bt" textLength="71.77" lengthAdjust="spacing">klasės lemputės:</text>
<path d="M12.3 123.20 L34.50 123.20 L42.00 130.95 L34.50 138.70 L12.3 138.70 Z" fill="#12934a"/>
<text transform="translate(15.6 137.40) scale(0.92 1)" class="al" style="fill:#eefaee;stroke:#eefaee">A</text>
<text x="26.4" y="131.80" class="sup">++</text>
<path d="M12.3 141.90 L39.40 141.90 L46.90 149.65 L39.40 157.40 L12.3 157.40 Z" fill="#3cad36"/>
<text transform="translate(15.6 156.10) scale(0.92 1)" class="al" style="fill:#f0faea;stroke:#f0faea">A</text>
<text x="26.4" y="150.50" class="sup">+</text>
<path d="M12.3 160.60 L44.30 160.60 L51.80 168.35 L44.30 176.10 L12.3 176.10 Z" fill="#b2cd1c"/>
<text transform="translate(15.6 174.80) scale(0.92 1)" class="al" style="fill:#f6fbe0;stroke:#f6fbe0">A</text>
<path d="M12.3 179.30 L49.20 179.30 L56.70 187.05 L49.20 194.80 L12.3 194.80 Z" fill="#f9ea00"/>
<text transform="translate(15.6 193.50) scale(0.86 1)" class="al" style="fill:#fffbb8;stroke:#fffbb8">B</text>
<path d="M12.3 198.00 L54.10 198.00 L61.60 205.75 L54.10 213.50 L12.3 213.50 Z" fill="#f6bb00"/>
<text transform="translate(15.6 212.20) scale(0.82 1)" class="al" style="fill:#fff0c0;stroke:#fff0c0">C</text>
<path d="M12.3 216.70 L59.00 216.70 L66.50 224.45 L59.00 232.20 L12.3 232.20 Z" fill="#ee7703"/>
<text transform="translate(15.6 230.90) scale(0.95 1)" class="al" style="fill:#fff0e0;stroke:#fff0e0">D</text>
<path d="M12.3 235.40 L63.90 235.40 L71.40 243.15 L63.90 250.90 L12.3 250.90 Z" fill="#e5031c"/>
<text transform="translate(15.6 249.60) scale(0.86 1)" class="al" style="fill:#fff4f4;stroke:#fff4f4">E</text>
<path d="M93 124 Q102.7 123.6 102.7 128.5 L102.7 181.5 Q102.7 186 109 186.2 Q102.7 186.6 102.7 190.4 L102.7 245.5 Q102.7 250.4 93 250.4" fill="none" stroke="#d8f8ff" stroke-width="5.5"/>
<path d="M93 123.1 C98 123.1 104.25 123.3 104.25 128.5 L104.25 181.4 C104.25 184.4 106 185.6 109.2 186.2 C106 186.8 104.25 188 104.25 191 L104.25 245.5 C104.25 250.7 98 250.9 93 250.9 L93 249.3 C97 249.3 101.15 248.5 101.15 245.5 L101.15 128.5 C101.15 125.5 97 124.7 93 124.7 Z" fill="#2a8dc2"/>
<g transform="translate(128.4 181.5) rotate(41)"><path d="M11.8 -3.2 C9 -3.6 5.2 -5.1 3.5 -6.06 A7 7 0 1 0 3.5 6.06 C5.2 5.1 9 3.6 11.8 3.2" fill="none" stroke="#456a75" stroke-width="0.9"/><path d="M11.4 -3.4 L16 -3 L16 3 L11.4 3.4 Z" fill="#1a82c0"/><path d="M15.8 -3 L18.6 -2.4 Q20.5 0 18.6 2.4 L15.8 3 Z" fill="#3ea6dc"/></g>
<rect x="12" y="259.9" width="146" height="5" fill="#e6fafe"/>
<rect x="12" y="261.3" width="146" height="1.25" fill="#5a8fa6"/>
<text transform="translate(12.6 278.10) scale(0.93 1)" class="bt" textLength="139.73" lengthAdjust="spacing">Šviestuvas parduodamas su šios</text>
<text transform="translate(12.6 288.70) scale(0.93 1)" class="bt" textLength="95.16" lengthAdjust="spacing">energijos efektyvumo</text>
<text transform="translate(12.6 299.30) scale(0.93 1)" class="bt" textLength="67.47" lengthAdjust="spacing">klasės lempute:</text>
<path d="M100 296.8 L119.4 296.8 L125.3 303.25 L119.4 309.7 L100 309.7 Z" fill="#3cad36"/>
<text x="101.4" y="307.2" class="als">A</text><text x="109.2" y="303.6" class="sups">+</text>
<text x="12.5" y="326.6" class="rg">874/2012</text>
<rect x="132.3" y="310.9" width="25.8" height="16.8" fill="#1a3f9a"/>
<circle cx="150.60" cy="319.30" r="0.65" fill="#e8e07a"/>
<circle cx="149.88" cy="322.00" r="0.65" fill="#e8e07a"/>
<circle cx="147.90" cy="323.98" r="0.65" fill="#e8e07a"/>
<circle cx="145.20" cy="324.70" r="0.65" fill="#e8e07a"/>
<circle cx="142.50" cy="323.98" r="0.65" fill="#e8e07a"/>
<circle cx="140.52" cy="322.00" r="0.65" fill="#e8e07a"/>
<circle cx="139.80" cy="319.30" r="0.65" fill="#e8e07a"/>
<circle cx="140.52" cy="316.60" r="0.65" fill="#e8e07a"/>
<circle cx="142.50" cy="314.62" r="0.65" fill="#e8e07a"/>
<circle cx="145.20" cy="313.90" r="0.65" fill="#e8e07a"/>
<circle cx="147.90" cy="314.62" r="0.65" fill="#e8e07a"/>
<circle cx="149.88" cy="316.60" r="0.65" fill="#e8e07a"/>
<text transform="translate(188.82 315.6) scale(0.7957 1)" class="code">LT</text>
</g>
<g transform="translate(768,341.333)">
<rect x="7" y="6.9" width="157" height="325.8" rx="3.6" fill="none" stroke="#bff3fd" stroke-width="5"/>
<rect x="7" y="6.9" width="157" height="325.8" rx="3.6" fill="none" stroke="#2f8bbd" stroke-width="2.1"/>
<text x="18.6" y="33.5" class="hd" textLength="58.8" lengthAdjust="spacingAndGlyphs">Techmar B.V.</text>
<text x="94" y="33.5" class="hd" textLength="44" lengthAdjust="spacingAndGlyphs">4024603</text>
<rect x="12" y="47.4" width="148" height="5" fill="#e6fafe"/>
<rect x="12" y="48.8" width="148" height="1.25" fill="#5a8fa6"/>
<rect x="12.8" y="60.8" width="42.4" height="42.6" rx="3.5" fill="none" stroke="#5b93ad" stroke-width="1.4"/>
<path d="M28.3 66 L39.8 66 L45.2 80.7 L22.9 80.7 Z" fill="#1d9be2"/>
<rect x="32" y="80" width="3.8" height="15" fill="#1c94da"/>
<rect x="28" y="94.3" width="11.8" height="3.8" rx="1.9" fill="#1886c8"/>
<text transform="translate(59 68.00) scale(0.93 1)" class="bt" textLength="87.58" lengthAdjust="spacing">Denne armaturen er</text>
<text transform="translate(59 78.55) scale(0.93 1)" class="bt" textLength="85.64" lengthAdjust="spacing">kompatibel med ly-</text>
<text transform="translate(59 89.10) scale(0.93 1)" class="bt" textLength="84.46" lengthAdjust="spacing">spærer av følgende</text>
<text transform="translate(59 99.65) scale(0.93 1)" class="bt" textLength="59.84" lengthAdjust="spacing">energiklasser:</text>
<path d="M12.3 123.20 L34.50 123.20 L42.00 130.95 L34.50 138.70 L12.3 138.70 Z" fill="#12934a"/>
<text transform="translate(15.6 137.40) scale(0.92 1)" class="al" style="fill:#eefaee;stroke:#eefaee">A</text>
<text x="26.4" y="131.80" class="sup">++</text>
<path d="M12.3 141.90 L39.40 141.90 L46.90 149.65 L39.40 157.40 L12.3 157.40 Z" fill="#3cad36"/>
<text transform="translate(15.6 156.10) scale(0.92 1)" class="al" style="fill:#f0faea;stroke:#f0faea">A</text>
<text x="26.4" y="150.50" class="sup">+</text>
<path d="M12.3 160.60 L44.30 160.60 L51.80 168.35 L44.30 176.10 L12.3 176.10 Z" fill="#b2cd1c"/>
<text transform="translate(15.6 174.80) scale(0.92 1)" class="al" style="fill:#f6fbe0;stroke:#f6fbe0">A</text>
<path d="M12.3 179.30 L49.20 179.30 L56.70 187.05 L49.20 194.80 L12.3 194.80 Z" fill="#f9ea00"/>
<text transform="translate(15.6 193.50) scale(0.86 1)" class="al" style="fill:#fffbb8;stroke:#fffbb8">B</text>
<path d="M12.3 198.00 L54.10 198.00 L61.60 205.75 L54.10 213.50 L12.3 213.50 Z" fill="#f6bb00"/>
<text transform="translate(15.6 212.20) scale(0.82 1)" class="al" style="fill:#fff0c0;stroke:#fff0c0">C</text>
<path d="M12.3 216.70 L59.00 216.70 L66.50 224.45 L59.00 232.20 L12.3 232.20 Z" fill="#ee7703"/>
<text transform="translate(15.6 230.90) scale(0.95 1)" class="al" style="fill:#fff0e0;stroke:#fff0e0">D</text>
<path d="M12.3 235.40 L63.90 235.40 L71.40 243.15 L63.90 250.90 L12.3 250.90 Z" fill="#e5031c"/>
<text transform="translate(15.6 249.60) scale(0.86 1)" class="al" style="fill:#fff4f4;stroke:#fff4f4">E</text>
<path d="M93 124 Q102.7 123.6 102.7 128.5 L102.7 181.5 Q102.7 186 109 186.2 Q102.7 186.6 102.7 190.4 L102.7 245.5 Q102.7 250.4 93 250.4" fill="none" stroke="#d8f8ff" stroke-width="5.5"/>
<path d="M93 123.1 C98 123.1 104.25 123.3 104.25 128.5 L104.25 181.4 C104.25 184.4 106 185.6 109.2 186.2 C106 186.8 104.25 188 104.25 191 L104.25 245.5 C104.25 250.7 98 250.9 93 250.9 L93 249.3 C97 249.3 101.15 248.5 101.15 245.5 L101.15 128.5 C101.15 125.5 97 124.7 93 124.7 Z" fill="#2a8dc2"/>
<g transform="translate(128.4 181.5) rotate(41)"><path d="M11.8 -3.2 C9 -3.6 5.2 -5.1 3.5 -6.06 A7 7 0 1 0 3.5 6.06 C5.2 5.1 9 3.6 11.8 3.2" fill="none" stroke="#456a75" stroke-width="0.9"/><path d="M11.4 -3.4 L16 -3 L16 3 L11.4 3.4 Z" fill="#1a82c0"/><path d="M15.8 -3 L18.6 -2.4 Q20.5 0 18.6 2.4 L15.8 3 Z" fill="#3ea6dc"/></g>
<rect x="12" y="259.9" width="146" height="5" fill="#e6fafe"/>
<rect x="12" y="261.3" width="146" height="1.25" fill="#5a8fa6"/>
<text transform="translate(12.6 276.80) scale(0.93 1)" class="bt" textLength="154.78" lengthAdjust="spacing">Armaturen er solgt med en lyspære</text>
<text transform="translate(12.6 287.40) scale(0.93 1)" class="bt" textLength="110.27" lengthAdjust="spacing">av følgende energiklasse:</text>
<path d="M100 296.8 L119.4 296.8 L125.3 303.25 L119.4 309.7 L100 309.7 Z" fill="#3cad36"/>
<text x="101.4" y="307.2" class="als">A</text><text x="109.2" y="303.6" class="sups">+</text>
<text x="12.5" y="326.6" class="rg">874/2012</text>
<rect x="132.3" y="310.9" width="25.8" height="16.8" fill="#1a3f9a"/>
<circle cx="150.60" cy="319.30" r="0.65" fill="#e8e07a"/>
<circle cx="149.88" cy="322.00" r="0.65" fill="#e8e07a"/>
<circle cx="147.90" cy="323.98" r="0.65" fill="#e8e07a"/>
<circle cx="145.20" cy="324.70" r="0.65" fill="#e8e07a"/>
<circle cx="142.50" cy="323.98" r="0.65" fill="#e8e07a"/>
<circle cx="140.52" cy="322.00" r="0.65" fill="#e8e07a"/>
<circle cx="139.80" cy="319.30" r="0.65" fill="#e8e07a"/>
<circle cx="140.52" cy="316.60" r="0.65" fill="#e8e07a"/>
<circle cx="142.50" cy="314.62" r="0.65" fill="#e8e07a"/>
<circle cx="145.20" cy="313.90" r="0.65" fill="#e8e07a"/>
<circle cx="147.90" cy="314.62" r="0.65" fill="#e8e07a"/>
<circle cx="149.88" cy="316.60" r="0.65" fill="#e8e07a"/>
<text transform="translate(188.61 315.6) scale(0.8471 1)" class="code">NB</text>
</g>
<g transform="translate(0,682.667)">
<rect x="7" y="6.9" width="157" height="325.8" rx="3.6" fill="none" stroke="#bff3fd" stroke-width="5"/>
<rect x="7" y="6.9" width="157" height="325.8" rx="3.6" fill="none" stroke="#2f8bbd" stroke-width="2.1"/>
<text x="18.6" y="33.5" class="hd" textLength="58.8" lengthAdjust="spacingAndGlyphs">Techmar B.V.</text>
<text x="94" y="33.5" class="hd" textLength="44" lengthAdjust="spacingAndGlyphs">4024603</text>
<rect x="12" y="47.4" width="148" height="5" fill="#e6fafe"/>
<rect x="12" y="48.8" width="148" height="1.25" fill="#5a8fa6"/>
<rect x="12.8" y="60.8" width="42.4" height="42.6" rx="3.5" fill="none" stroke="#5b93ad" stroke-width="1.4"/>
<path d="M28.3 66 L39.8 66 L45.2 80.7 L22.9 80.7 Z" fill="#1d9be2"/>
<rect x="32" y="80" width="3.8" height="15" fill="#1c94da"/>
<rect x="28" y="94.3" width="11.8" height="3.8" rx="1.9" fill="#1886c8"/>
<text transform="translate(59 68.00) scale(0.93 1)" class="bt" textLength="103.92" lengthAdjust="spacing">Aceste corpuri de ilumi-</text>
<text transform="translate(59 78.55) scale(0.93 1)" class="bt" textLength="102.74" lengthAdjust="spacing">nat sunt compatibile cu</text>
<text transform="translate(59 89.10) scale(0.93 1)" class="bt" textLength="100.80" lengthAdjust="spacing">becuri din clasele ener-</text>
<text transform="translate(59 99.65) scale(0.93 1)" class="bt" textLength="29.62" lengthAdjust="spacing">getice:</text>
<path d="M12.3 123.20 L34.50 123.20 L42.00 130.95 L34.50 138.70 L12.3 138.70 Z" fill="#12934a"/>
<text transform="translate(15.6 137.40) scale(0.92 1)" class="al" style="fill:#eefaee;stroke:#eefaee">A</text>
<text x="26.4" y="131.80" class="sup">++</text>
<path d="M12.3 141.90 L39.40 141.90 L46.90 149.65 L39.40 157.40 L12.3 157.40 Z" fill="#3cad36"/>
<text transform="translate(15.6 156.10) scale(0.92 1)" class="al" style="fill:#f0faea;stroke:#f0faea">A</text>
<text x="26.4" y="150.50" class="sup">+</text>
<path d="M12.3 160.60 L44.30 160.60 L51.80 168.35 L44.30 176.10 L12.3 176.10 Z" fill="#b2cd1c"/>
<text transform="translate(15.6 174.80) scale(0.92 1)" class="al" style="fill:#f6fbe0;stroke:#f6fbe0">A</text>
<path d="M12.3 179.30 L49.20 179.30 L56.70 187.05 L49.20 194.80 L12.3 194.80 Z" fill="#f9ea00"/>
<text transform="translate(15.6 193.50) scale(0.86 1)" class="al" style="fill:#fffbb8;stroke:#fffbb8">B</text>
<path d="M12.3 198.00 L54.10 198.00 L61.60 205.75 L54.10 213.50 L12.3 213.50 Z" fill="#f6bb00"/>
<text transform="translate(15.6 212.20) scale(0.82 1)" class="al" style="fill:#fff0c0;stroke:#fff0c0">C</text>
<path d="M12.3 216.70 L59.00 216.70 L66.50 224.45 L59.00 232.20 L12.3 232.20 Z" fill="#ee7703"/>
<text transform="translate(15.6 230.90) scale(0.95 1)" class="al" style="fill:#fff0e0;stroke:#fff0e0">D</text>
<path d="M12.3 235.40 L63.90 235.40 L71.40 243.15 L63.90 250.90 L12.3 250.90 Z" fill="#e5031c"/>
<text transform="translate(15.6 249.60) scale(0.86 1)" class="al" style="fill:#fff4f4;stroke:#fff4f4">E</text>
<path d="M93 124 Q102.7 123.6 102.7 128.5 L102.7 181.5 Q102.7 186 109 186.2 Q102.7 186.6 102.7 190.4 L102.7 245.5 Q102.7 250.4 93 250.4" fill="none" stroke="#d8f8ff" stroke-width="5.5"/>
<path d="M93 123.1 C98 123.1 104.25 123.3 104.25 128.5 L104.25 181.4 C104.25 184.4 106 185.6 109.2 186.2 C106 186.8 104.25 188 104.25 191 L104.25 245.5 C104.25 250.7 98 250.9 93 250.9 L93 249.3 C97 249.3 101.15 248.5 101.15 245.5 L101.15 128.5 C101.15 125.5 97 124.7 93 124.7 Z" fill="#2a8dc2"/>
<g transform="translate(128.4 181.5) rotate(41)"><path d="M11.8 -3.2 C9 -3.6 5.2 -5.1 3.5 -6.06 A7 7 0 1 0 3.5 6.06 C5.2 5.1 9 3.6 11.8 3.2" fill="none" stroke="#456a75" stroke-width="0.9"/><path d="M11.4 -3.4 L16 -3 L16 3 L11.4 3.4 Z" fill="#1a82c0"/><path d="M15.8 -3 L18.6 -2.4 Q20.5 0 18.6 2.4 L15.8 3 Z" fill="#3ea6dc"/></g>
<rect x="12" y="259.9" width="146" height="5" fill="#e6fafe"/>
<rect x="12" y="261.3" width="146" height="1.25" fill="#5a8fa6"/>
<text transform="translate(12.6 276.80) scale(0.93 1)" class="bt" textLength="124.57" lengthAdjust="spacing">Aceste corp de iluminat este</text>
<text transform="translate(12.6 287.40) scale(0.93 1)" class="bt" textLength="101.88" lengthAdjust="spacing">vândut cu bec din clasa</text>
<text transform="translate(12.6 298.00) scale(0.93 1)" class="bt" textLength="49.84" lengthAdjust="spacing">energetică:</text>
<path d="M100 296.8 L119.4 296.8 L125.3 303.25 L119.4 309.7 L100 309.7 Z" fill="#3cad36"/>
<text x="101.4" y="307.2" class="als">A</text><text x="109.2" y="303.6" class="sups">+</text>
<text x="12.5" y="326.6" class="rg">874/2012</text>
<rect x="132.3" y="310.9" width="25.8" height="16.8" fill="#1a3f9a"/>
<circle cx="150.60" cy="319.30" r="0.65" fill="#e8e07a"/>
<circle cx="149.88" cy="322.00" r="0.65" fill="#e8e07a"/>
<circle cx="147.90" cy="323.98" r="0.65" fill="#e8e07a"/>
<circle cx="145.20" cy="324.70" r="0.65" fill="#e8e07a"/>
<circle cx="142.50" cy="323.98" r="0.65" fill="#e8e07a"/>
<circle cx="140.52" cy="322.00" r="0.65" fill="#e8e07a"/>
<circle cx="139.80" cy="319.30" r="0.65" fill="#e8e07a"/>
<circle cx="140.52" cy="316.60" r="0.65" fill="#e8e07a"/>
<circle cx="142.50" cy="314.62" r="0.65" fill="#e8e07a"/>
<circle cx="145.20" cy="313.90" r="0.65" fill="#e8e07a"/>
<circle cx="147.90" cy="314.62" r="0.65" fill="#e8e07a"/>
<circle cx="149.88" cy="316.60" r="0.65" fill="#e8e07a"/>
<text transform="translate(188.86 315.6) scale(0.7862 1)" class="code">RO</text>
</g>
<g transform="translate(256,682.667)">
<rect x="7" y="6.9" width="157" height="325.8" rx="3.6" fill="none" stroke="#bff3fd" stroke-width="5"/>
<rect x="7" y="6.9" width="157" height="325.8" rx="3.6" fill="none" stroke="#2f8bbd" stroke-width="2.1"/>
<text x="18.6" y="33.5" class="hd" textLength="58.8" lengthAdjust="spacingAndGlyphs">Techmar B.V.</text>
<text x="94" y="33.5" class="hd" textLength="44" lengthAdjust="spacingAndGlyphs">4024603</text>
<rect x="12" y="47.4" width="148" height="5" fill="#e6fafe"/>
<rect x="12" y="48.8" width="148" height="1.25" fill="#5a8fa6"/>
<rect x="12.8" y="60.8" width="42.4" height="42.6" rx="3.5" fill="none" stroke="#5b93ad" stroke-width="1.4"/>
<path d="M28.3 66 L39.8 66 L45.2 80.7 L22.9 80.7 Z" fill="#1d9be2"/>
<rect x="32" y="80" width="3.8" height="15" fill="#1c94da"/>
<rect x="28" y="94.3" width="11.8" height="3.8" rx="1.9" fill="#1886c8"/>
<text transform="translate(59 68.00) scale(0.93 1)" class="bt" textLength="95.11" lengthAdjust="spacing">Toto svietidlo je kom-</text>
<text transform="translate(59 78.55) scale(0.93 1)" class="bt" textLength="95.11" lengthAdjust="spacing">patibilné s žiarovkami</text>
<text transform="translate(59 89.10) scale(0.93 1)" class="bt" textLength="57.90" lengthAdjust="spacing">tried energie:</text>
<path d="M12.3 123.20 L34.50 123.20 L42.00 130.95 L34.50 138.70 L12.3 138.70 Z" fill="#12934a"/>
<text transform="translate(15.6 137.40) scale(0.92 1)" class="al" style="fill:#eefaee;stroke:#eefaee">A</text>
<text x="26.4" y="131.80" class="sup">++</text>
<path d="M12.3 141.90 L39.40 141.90 L46.90 149.65 L39.40 157.40 L12.3 157.40 Z" fill="#3cad36"/>
<text transform="translate(15.6 156.10) scale(0.92 1)" class="al" style="fill:#f0faea;stroke:#f0faea">A</text>
<text x="26.4" y="150.50" class="sup">+</text>
<path d="M12.3 160.60 L44.30 160.60 L51.80 168.35 L44.30 176.10 L12.3 176.10 Z" fill="#b2cd1c"/>
<text transform="translate(15.6 174.80) scale(0.92 1)" class="al" style="fill:#f6fbe0;stroke:#f6fbe0">A</text>
<path d="M12.3 179.30 L49.20 179.30 L56.70 187.05 L49.20 194.80 L12.3 194.80 Z" fill="#f9ea00"/>
<text transform="translate(15.6 193.50) scale(0.86 1)" class="al" style="fill:#fffbb8;stroke:#fffbb8">B</text>
<path d="M12.3 198.00 L54.10 198.00 L61.60 205.75 L54.10 213.50 L12.3 213.50 Z" fill="#f6bb00"/>
<text transform="translate(15.6 212.20) scale(0.82 1)" class="al" style="fill:#fff0c0;stroke:#fff0c0">C</text>
<path d="M12.3 216.70 L59.00 216.70 L66.50 224.45 L59.00 232.20 L12.3 232.20 Z" fill="#ee7703"/>
<text transform="translate(15.6 230.90) scale(0.95 1)" class="al" style="fill:#fff0e0;stroke:#fff0e0">D</text>
<path d="M12.3 235.40 L63.90 235.40 L71.40 243.15 L63.90 250.90 L12.3 250.90 Z" fill="#e5031c"/>
<text transform="translate(15.6 249.60) scale(0.86 1)" class="al" style="fill:#fff4f4;stroke:#fff4f4">E</text>
<path d="M93 124 Q102.7 123.6 102.7 128.5 L102.7 181.5 Q102.7 186 109 186.2 Q102.7 186.6 102.7 190.4 L102.7 245.5 Q102.7 250.4 93 250.4" fill="none" stroke="#d8f8ff" stroke-width="5.5"/>
<path d="M93 123.1 C98 123.1 104.25 123.3 104.25 128.5 L104.25 181.4 C104.25 184.4 106 185.6 109.2 186.2 C106 186.8 104.25 188 104.25 191 L104.25 245.5 C104.25 250.7 98 250.9 93 250.9 L93 249.3 C97 249.3 101.15 248.5 101.15 245.5 L101.15 128.5 C101.15 125.5 97 124.7 93 124.7 Z" fill="#2a8dc2"/>
<g transform="translate(128.4 181.5) rotate(41)"><path d="M11.8 -3.2 C9 -3.6 5.2 -5.1 3.5 -6.06 A7 7 0 1 0 3.5 6.06 C5.2 5.1 9 3.6 11.8 3.2" fill="none" stroke="#456a75" stroke-width="0.9"/><path d="M11.4 -3.4 L16 -3 L16 3 L11.4 3.4 Z" fill="#1a82c0"/><path d="M15.8 -3 L18.6 -2.4 Q20.5 0 18.6 2.4 L15.8 3 Z" fill="#3ea6dc"/></g>
<rect x="12" y="259.9" width="146" height="5" fill="#e6fafe"/>
<rect x="12" y="261.3" width="146" height="1.25" fill="#5a8fa6"/>
<text transform="translate(12.6 276.80) scale(0.93 1)" class="bt" textLength="148.12" lengthAdjust="spacing">Svietidlo je predávané s žiarovkou</text>
<text transform="translate(12.6 287.40) scale(0.93 1)" class="bt" textLength="83.39" lengthAdjust="spacing">energetickej triedy:</text>
<path d="M100 296.8 L119.4 296.8 L125.3 303.25 L119.4 309.7 L100 309.7 Z" fill="#3cad36"/>
<text x="101.4" y="307.2" class="als">A</text><text x="109.2" y="303.6" class="sups">+</text>
<text x="12.5" y="326.6" class="rg">874/2012</text>
<rect x="132.3" y="310.9" width="25.8" height="16.8" fill="#1a3f9a"/>
<circle cx="150.60" cy="319.30" r="0.65" fill="#e8e07a"/>
<circle cx="149.88" cy="322.00" r="0.65" fill="#e8e07a"/>
<circle cx="147.90" cy="323.98" r="0.65" fill="#e8e07a"/>
<circle cx="145.20" cy="324.70" r="0.65" fill="#e8e07a"/>
<circle cx="142.50" cy="323.98" r="0.65" fill="#e8e07a"/>
<circle cx="140.52" cy="322.00" r="0.65" fill="#e8e07a"/>
<circle cx="139.80" cy="319.30" r="0.65" fill="#e8e07a"/>
<circle cx="140.52" cy="316.60" r="0.65" fill="#e8e07a"/>
<circle cx="142.50" cy="314.62" r="0.65" fill="#e8e07a"/>
<circle cx="145.20" cy="313.90" r="0.65" fill="#e8e07a"/>
<circle cx="147.90" cy="314.62" r="0.65" fill="#e8e07a"/>
<circle cx="149.88" cy="316.60" r="0.65" fill="#e8e07a"/>
<text transform="translate(190.18 315.6) scale(0.7283 1)" class="code">SK</text>
</g>
<g transform="translate(512,682.667)">
<rect x="7" y="6.9" width="157" height="325.8" rx="3.6" fill="none" stroke="#bff3fd" stroke-width="5"/>
<rect x="7" y="6.9" width="157" height="325.8" rx="3.6" fill="none" stroke="#2f8bbd" stroke-width="2.1"/>
<text x="18.6" y="33.5" class="hd" textLength="58.8" lengthAdjust="spacingAndGlyphs">Techmar B.V.</text>
<text x="94" y="33.5" class="hd" textLength="44" lengthAdjust="spacingAndGlyphs">4024603</text>
<rect x="12" y="47.4" width="148" height="5" fill="#e6fafe"/>
<rect x="12" y="48.8" width="148" height="1.25" fill="#5a8fa6"/>
<rect x="12.8" y="60.8" width="42.4" height="42.6" rx="3.5" fill="none" stroke="#5b93ad" stroke-width="1.4"/>
<path d="M28.3 66 L39.8 66 L45.2 80.7 L22.9 80.7 Z" fill="#1d9be2"/>
<rect x="32" y="80" width="3.8" height="15" fill="#1c94da"/>
<rect x="28" y="94.3" width="11.8" height="3.8" rx="1.9" fill="#1886c8"/>
<text transform="translate(59 68.00) scale(0.93 1)" class="bt" textLength="102.74" lengthAdjust="spacing">Ta svetilka je združljiv z</text>
<text transform="translate(59 78.55) scale(0.93 1)" class="bt" textLength="101.45" lengthAdjust="spacing">čebulic energetskih raz-</text>
<text transform="translate(59 89.10) scale(0.93 1)" class="bt" textLength="27.69" lengthAdjust="spacing">redov:</text>
<path d="M12.3 123.20 L34.50 123.20 L42.00 130.95 L34.50 138.70 L12.3 138.70 Z" fill="#12934a"/>
<text transform="translate(15.6 137.40) scale(0.92 1)" class="al" style="fill:#eefaee;stroke:#eefaee">A</text>
<text x="26.4" y="131.80" class="sup">++</text>
<path d="M12.3 141.90 L39.40 141.90 L46.90 149.65 L39.40 157.40 L12.3 157.40 Z" fill="#3cad36"/>
<text transform="translate(15.6 156.10) scale(0.92 1)" class="al" style="fill:#f0faea;stroke:#f0faea">A</text>
<text x="26.4" y="150.50" class="sup">+</text>
<path d="M12.3 160.60 L44.30 160.60 L51.80 168.35 L44.30 176.10 L12.3 176.10 Z" fill="#b2cd1c"/>
<text transform="translate(15.6 174.80) scale(0.92 1)" class="al" style="fill:#f6fbe0;stroke:#f6fbe0">A</text>
<path d="M12.3 179.30 L49.20 179.30 L56.70 187.05 L49.20 194.80 L12.3 194.80 Z" fill="#f9ea00"/>
<text transform="translate(15.6 193.50) scale(0.86 1)" class="al" style="fill:#fffbb8;stroke:#fffbb8">B</text>
<path d="M12.3 198.00 L54.10 198.00 L61.60 205.75 L54.10 213.50 L12.3 213.50 Z" fill="#f6bb00"/>
<text transform="translate(15.6 212.20) scale(0.82 1)" class="al" style="fill:#fff0c0;stroke:#fff0c0">C</text>
<path d="M12.3 216.70 L59.00 216.70 L66.50 224.45 L59.00 232.20 L12.3 232.20 Z" fill="#ee7703"/>
<text transform="translate(15.6 230.90) scale(0.95 1)" class="al" style="fill:#fff0e0;stroke:#fff0e0">D</text>
<path d="M12.3 235.40 L63.90 235.40 L71.40 243.15 L63.90 250.90 L12.3 250.90 Z" fill="#e5031c"/>
<text transform="translate(15.6 249.60) scale(0.86 1)" class="al" style="fill:#fff4f4;stroke:#fff4f4">E</text>
<path d="M93 124 Q102.7 123.6 102.7 128.5 L102.7 181.5 Q102.7 186 109 186.2 Q102.7 186.6 102.7 190.4 L102.7 245.5 Q102.7 250.4 93 250.4" fill="none" stroke="#d8f8ff" stroke-width="5.5"/>
<path d="M93 123.1 C98 123.1 104.25 123.3 104.25 128.5 L104.25 181.4 C104.25 184.4 106 185.6 109.2 186.2 C106 186.8 104.25 188 104.25 191 L104.25 245.5 C104.25 250.7 98 250.9 93 250.9 L93 249.3 C97 249.3 101.15 248.5 101.15 245.5 L101.15 128.5 C101.15 125.5 97 124.7 93 124.7 Z" fill="#2a8dc2"/>
<g transform="translate(128.4 181.5) rotate(41)"><path d="M11.8 -3.2 C9 -3.6 5.2 -5.1 3.5 -6.06 A7 7 0 1 0 3.5 6.06 C5.2 5.1 9 3.6 11.8 3.2" fill="none" stroke="#456a75" stroke-width="0.9"/><path d="M11.4 -3.4 L16 -3 L16 3 L11.4 3.4 Z" fill="#1a82c0"/><path d="M15.8 -3 L18.6 -2.4 Q20.5 0 18.6 2.4 L15.8 3 Z" fill="#3ea6dc"/></g>
<rect x="12" y="259.9" width="146" height="5" fill="#e6fafe"/>
<rect x="12" y="261.3" width="146" height="1.25" fill="#5a8fa6"/>
<text transform="translate(12.6 276.80) scale(0.93 1)" class="bt" textLength="133.82" lengthAdjust="spacing">Svetilka se prodaja z žarnico iz</text>
<text transform="translate(12.6 287.40) scale(0.93 1)" class="bt" textLength="91.77" lengthAdjust="spacing">energijskega razreda:</text>
<path d="M100 296.8 L119.4 296.8 L125.3 303.25 L119.4 309.7 L100 309.7 Z" fill="#3cad36"/>
<text x="101.4" y="307.2" class="als">A</text><text x="109.2" y="303.6" class="sups">+</text>
<text x="12.5" y="326.6" class="rg">874/2012</text>
<rect x="132.3" y="310.9" width="25.8" height="16.8" fill="#1a3f9a"/>
<circle cx="150.60" cy="319.30" r="0.65" fill="#e8e07a"/>
<circle cx="149.88" cy="322.00" r="0.65" fill="#e8e07a"/>
<circle cx="147.90" cy="323.98" r="0.65" fill="#e8e07a"/>
<circle cx="145.20" cy="324.70" r="0.65" fill="#e8e07a"/>
<circle cx="142.50" cy="323.98" r="0.65" fill="#e8e07a"/>
<circle cx="140.52" cy="322.00" r="0.65" fill="#e8e07a"/>
<circle cx="139.80" cy="319.30" r="0.65" fill="#e8e07a"/>
<circle cx="140.52" cy="316.60" r="0.65" fill="#e8e07a"/>
<circle cx="142.50" cy="314.62" r="0.65" fill="#e8e07a"/>
<circle cx="145.20" cy="313.90" r="0.65" fill="#e8e07a"/>
<circle cx="147.90" cy="314.62" r="0.65" fill="#e8e07a"/>
<circle cx="149.88" cy="316.60" r="0.65" fill="#e8e07a"/>
<text transform="translate(190.19 315.6) scale(0.7259 1)" class="code">SL</text>
</g>
<rect x="255" y="0" width="2" height="1024" fill="#707070"/>
<rect x="511" y="0" width="2" height="1024" fill="#707070"/>
<rect x="767" y="0" width="2" height="1024" fill="#707070"/>
<rect x="0" y="340.58" width="1024" height="1.5" fill="#707070"/>
<rect x="0" y="681.92" width="1024" height="1.5" fill="#707070"/>
<rect x="0" y="0" width="1024" height="1.2" fill="#707070"/>
<rect x="0" y="1022.8" width="1024" height="1.2" fill="#707070"/>
<rect x="0" y="0" width="1.2" height="1024" fill="#707070"/>
<rect x="1022.8" y="0" width="1.2" height="1024" fill="#707070"/>
</svg>
</body></html>
